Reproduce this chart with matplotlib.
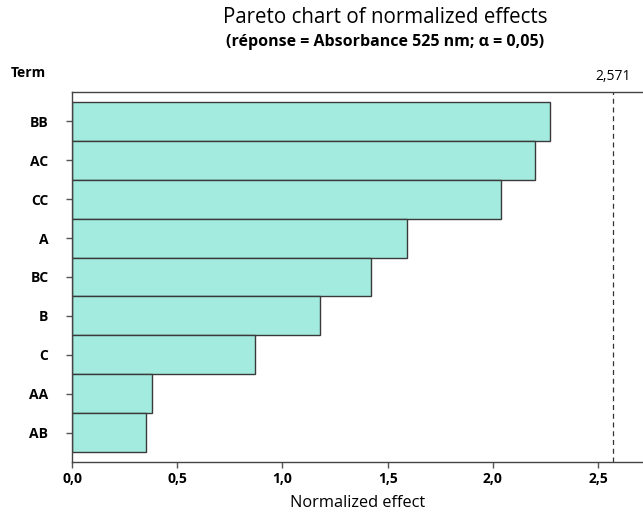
import matplotlib
matplotlib.use("Agg")
import matplotlib.pyplot as plt
from matplotlib.ticker import FuncFormatter

terms = ["BB", "AC", "CC", "A", "BC", "B", "C", "AA", "AB"]
effects = [2.27, 2.20, 2.04, 1.59, 1.42, 1.18, 0.87, 0.38, 0.35]
t_crit = 2.571
x_ticks = [0.0, 0.5, 1.0, 1.5, 2.0, 2.5]

plt.rcParams["font.family"] = ["Open Sans", "DejaVu Sans"]

bar_color = "#a3eadf"
edge = "#3a3a3a"

fig = plt.figure(figsize=(6.43, 5.13), dpi=100)
ax = fig.add_axes([0.112, 0.0994, 0.888, 0.7213])

ypos = list(range(len(terms)))
ax.barh(ypos, effects, height=1.0, color=bar_color, edgecolor=edge, linewidth=1.0)
ax.set_yticks(ypos)
ax.set_yticklabels(terms, fontsize=10, fontweight="bold")
ax.set_ylim(len(terms) - 0.25, -0.75)
ax.set_xlim(0, 2.713)
ax.set_xticks(x_ticks)
ax.xaxis.set_major_formatter(FuncFormatter(lambda v, p: f"{v:.1f}".replace(".", ",")))
for lab in ax.get_xticklabels():
    lab.set_fontweight("bold")
    lab.set_fontsize(10)

ax.axvline(t_crit, color="#333333", linestyle=(0, (4, 3)), linewidth=0.9)
ax.text(t_crit, -0.95, f"{t_crit:.3f}".replace(".", ","), ha="center", va="bottom",
        fontsize=10, fontweight="medium")

ax.spines["right"].set_visible(False)
for s in ["left", "bottom", "top"]:
    ax.spines[s].set_color("#444444")
    ax.spines[s].set_linewidth(1.0)
ax.tick_params(axis="both", colors="#555555", length=4, width=1, labelcolor="black")
ax.tick_params(axis="y", pad=13)

ax.set_xlabel("Normalized effect", fontsize=11.8, fontweight="medium", labelpad=6)

fig.text(0.016, 0.857, "Term", fontsize=10, fontweight="bold", ha="left", va="center")
fig.text(0.599, 0.965, "Pareto chart of normalized effects", fontsize=14.8,
         ha="center", va="center")
fig.text(0.599, 0.918, "(réponse = Absorbance 525 nm; α = 0,05)", fontsize=11.5,
         fontweight="bold", ha="center", va="center")

fig.savefig("out.png", dpi=100)
